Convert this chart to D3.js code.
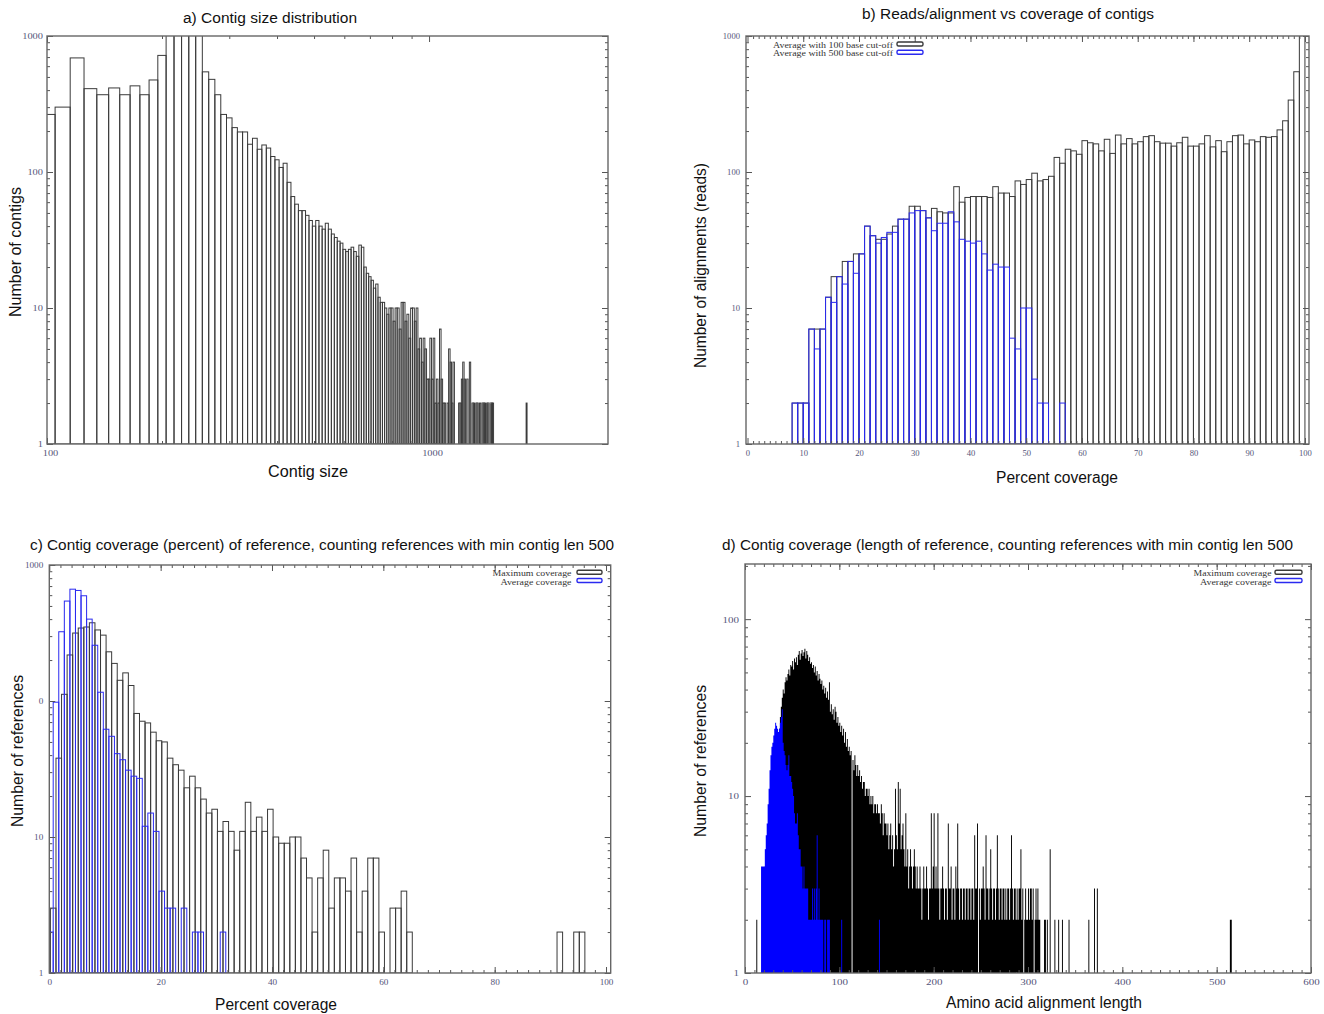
<!DOCTYPE html>
<html>
<head>
<meta charset="utf-8">
<script src="https://cdn.jsdelivr.net/npm/d3@7"></script>
<style>body{margin:0;background:#fff}</style>
</head>
<body>
<div class="container"></div>
<script>
// ---- a) contig size distribution, bins of 10 starting at 100
const sizeCounts = [
  265,300,690,410,370,415,370,430,370,475,
  720,1100,1300,1400,1200,1050,545,480,370,265,
  250,212,197,197,160,177,147,158,150,130,
  123,108,116,84,66,58,52,52,48,44,
  40,44,40,38,42,38,35,33,31,30,
  27,26,27,28,26,24,29,28,20,18,
  17,16,14,15,12,11,11,10,9,10,
  10,8,10,10,7,11,11,8,9,6,
  10,10,8,10,5,6,4,6,5,3,
  3,6,3,6,2,3,2,7,3,2,
  2,0,2,5,4,2,4,0,0,0,
  2,2,3,4,3,0,3,0,4,0,
  2,2,0,2,2,0,2,0,2,2,
  2,0,2,2,0,2,2,2,0,0,
  0,0,0,0,0,0,0,0,0,0,
  0,0,0,0,0,0,0,0,0,0,
  0,0,0,0,0,0,0,0,0,0,
  2
];
const sizeBins = sizeCounts.map((c, i) => 100 + 10 * i);

// ---- b) reads per alignment vs percent coverage, one bin per percent
const reads100 = [
  1,1,1,1,1,1,1,1,2,2,
  2,7,7,7,12,17,17,22,22,25,
  25,40,34,32,32,35,40,45,45,56,
  56,52,46,54,51,50,50,78,60,65,
  66,66,66,65,78,70,70,66,86,81,
  88,98,86,88,93,128,116,147,143,135,
  170,164,161,143,174,137,187,161,176,161,
  167,182,185,167,163,163,155,164,180,155,
  155,161,185,153,170,141,167,185,187,161,
  172,167,182,180,182,204,238,338,546,1200
];
const reads500 = [
  0,0,0,0,0,0,0,0,2,2,
  2,7,5,7,12,11,17,15,22,18,
  25,40,34,30,33,36,36,45,45,50,
  52,52,46,37,42,42,51,43,32,31,
  30,31,25,19,21,20,20,6,5,10,
  10,3,2,2,0,0,2
];

// ---- c) percent coverage of reference
const pctMax = [
  3,38,112,218,316,344,350,376,333,305,
  230,189,142,161,130,81,71,69,59,51,
  50,38,34,31,23,28,23,19,15,16,
  11,13,11,8,11,18,11,14,11,16,
  10,9,9,10,10,7,5,2,5,8,
  3,5,5,4,7,2,4,7,7,2,
  1,3,3,4,2,0,0,0,0,0,
  0,0,0,0,0,0,0,0,0,0,
  0,0,0,0,0,0,0,0,0,0,
  0,2,0,0,2,2
];
const pctAvg = [
  2,98,323,543,664,650,594,400,257,116,
  62,55,41,37,31,28,27,12,15,11,
  4,3,3,0,3,0,2,2,0,0,
  0,2
];

// ---- d) amino acid alignment length, one bin per residue
const lenMax = [
  0,0,0,0,0,0,0,0,0,0,
  0,0,2,0,0,0,0,1,2,2,
  3,4,5,4,6,7,8,9,11,12,
  13,15,16,18,20,22,24,28,32,36,
  40,38,44,47,45,49,52,48,55,54,
  58,52,60,57,61,55,63,66,59,64,
  67,62,65,68,60,66,63,58,61,56,
  57,53,55,50,54,48,51,45,49,46,
  43,45,40,42,38,41,36,39,35,44,
  30,33,29,31,27,32,30,26,28,25,
  26,23,25,22,24,20,23,19,21,18,
  19,17,18,0,16,14,17,15,13,15,
  13,14,12,13,11,12,12,10,11,11,
  10,11,9,10,9,10,8,9,9,8,
  9,8,8,7,9,8,6,8,7,7,
  6,7,5,6,7,5,6,4,5,11,
  6,5,12,7,11,5,6,7,5,4,
  8,4,5,3,4,5,4,3,4,5,
  4,3,4,3,3,4,3,2,3,4,
  3,3,4,3,2,3,3,8,3,4,
  8,3,4,3,8,3,2,3,3,4,
  3,2,3,3,2,7,3,3,4,2,
  3,3,2,4,3,7,3,2,3,3,
  2,3,3,2,3,3,2,3,3,2,
  3,3,2,6,3,3,7,0,3,2,
  3,3,4,3,2,6,3,3,2,3,
  5,3,2,3,3,2,3,6,3,2,
  3,3,2,3,3,2,3,2,3,3,
  2,3,6,3,2,3,3,2,3,2,
  3,3,5,2,3,0,2,3,2,2,
  3,2,3,3,2,3,0,2,3,2,
  3,2,2,0,0,0,0,2,2,0,
  2,0,0,5,0,0,0,0,2,0,
  0,0,2,0,0,0,2,0,0,0,
  0,0,0,2,0,0,0,0,0,0,
  0,0,0,0,0,0,0,0,0,0,
  0,0,0,0,2,0,0,0,0,0,
  3,0,0,3,0,0,0,0,0,0
];
const lenMaxFar = [514, 515];
const lenMaxFarCount = [2, 2];
const lenAvg = [
  0,0,0,0,0,0,0,0,0,0,
  0,0,0,0,0,0,0,4,4,4,
  4,5,6,7,9,11,14,17,19,20,
  22,24,26,25,24,23,24,26,28,31,
  20,18,17,15,14,15,17,13,13,12,
  11,10,8,7,7,8,6,5,5,4,
  4,3,4,3,3,3,3,2,2,2,
  2,3,2,3,2,3,6,2,3,2,
  2,2,2,0,2,2,0,2,2,2
];
const lenAvgFar = [102, 142];
const lenAvgFarCount = [2, 2];

// tick labels
const logTicks = [1, 10, 100, 1000];
const logLabels = ["1", "10", "100", "1000"];
const logLabelsC = ["1", "10", "0", "1000"];
const sizeTicks = [100, 1000];
const pctTicksB = [0, 10, 20, 30, 40, 50, 60, 70, 80, 90, 100];
const pctTicksC = [0, 20, 40, 60, 80, 100];
const lenTicks = [0, 100, 200, 300, 400, 500, 600];
const lenYTicks = [1, 10, 100];

const BLACK = "#3a3a3a", BLUE = "#2a2af0";

const svg = d3.select(".container").append("svg")
  .attr("width", 1324).attr("height", 1014)
  .attr("font-family", "'Liberation Sans', Arial, sans-serif");
const defs = svg.append("defs");

function logMinor(top) {
  const out = [];
  for (let d = 1; d < top; d *= 10)
    for (let k = 2; k <= 9; k++) if (d * k <= top) out.push(d * k);
  return out;
}

function plotArea(id, x, y) {
  const [l, r] = x.range(), [b, t] = y.range();
  defs.append("clipPath").attr("id", id).append("rect")
    .attr("x", l).attr("y", t).attr("width", r - l).attr("height", b - t);
  return svg.append("g").attr("clip-path", `url(#${id})`);
}

function outlineBars(g, x, y, counts, lo, hi, color) {
  g.append("g").selectAll("rect")
    .data(counts.map((c, i) => ({c, i})).filter(d => d.c > 0))
    .join("rect")
    .attr("x", d => x(lo(d.i)))
    .attr("width", d => x(hi(d.i)) - x(lo(d.i)))
    .attr("y", d => y(d.c))
    .attr("height", d => y(1) - y(d.c))
    .attr("fill", "none")
    .attr("stroke", color)
    .attr("stroke-width", 1);
}

function solidBars(g, x, y, bins, counts, color) {
  let p = "";
  counts.forEach((c, i) => {
    if (c > 0) {
      const a = x(bins[i]), b = x(bins[i] + 1);
      p += `M${a},${y(1)}H${b}V${y(c)}H${a}Z`;
    }
  });
  g.append("path").attr("d", p).attr("fill", color);
}

function drawAxes(x, y, o) {
  const [l, r] = x.range(), [b, t] = y.range();
  const g = svg.append("g");
  const mk = (axis, tx, ty) => {
    const a = g.append("g").attr("transform", `translate(${tx},${ty})`).call(axis);
    a.select(".domain").remove();
    a.selectAll(".tick line").attr("stroke", "#555");
    return a;
  };
  const lab = a => a.selectAll("text")
    .attr("font-family", "'Liberation Serif', 'Times New Roman', serif")
    .attr("font-size", 9)
    .attr("fill", "#55557a")
    .attr("lengthAdjust", "spacingAndGlyphs")
    .attr("textLength", function () { return this.textContent.length * o.digitW; });

  mk(d3.axisBottom(x).tickValues(o.xMinor).tickSize(-3).tickFormat(""), 0, b);
  mk(d3.axisTop(x).tickValues(o.xMinor).tickSize(-3).tickFormat(""), 0, t);
  mk(d3.axisLeft(y).tickValues(o.yMinor).tickSize(-3).tickFormat(""), l, 0);
  mk(d3.axisRight(y).tickValues(o.yMinor).tickSize(-3).tickFormat(""), r, 0);
  mk(d3.axisTop(x).tickValues(o.xMajor).tickSize(-6).tickFormat(""), 0, t);
  mk(d3.axisRight(y).tickValues(o.yMajor).tickSize(-6).tickFormat(""), r, 0);
  lab(mk(d3.axisBottom(x).tickValues(o.xMajor).tickSize(-6).tickPadding(6)
    .tickFormat((d, i) => o.xLabels[i]), 0, b)).attr("dx", o.xDx || 0);
  lab(mk(d3.axisLeft(y).tickValues(o.yMajor).tickSize(-6).tickPadding(o.yPad)
    .tickFormat((d, i) => o.yLabels[i]), l, 0));

  g.append("rect").attr("x", l).attr("y", t).attr("width", r - l).attr("height", b - t)
    .attr("fill", "none").attr("stroke", "#666").attr("stroke-width", 1.4);
}

function hText(str, x0, x1, yb, size) {
  svg.append("text").attr("x", (x0 + x1) / 2).attr("y", yb)
    .attr("text-anchor", "middle").attr("font-size", size).attr("fill", "#111")
    .attr("textLength", x1 - x0).attr("lengthAdjust", "spacingAndGlyphs")
    .text(str);
}

function vText(str, xb, y0, y1, size) {
  svg.append("text")
    .attr("transform", `translate(${xb},${(y0 + y1) / 2}) rotate(-90)`)
    .attr("text-anchor", "middle").attr("font-size", size).attr("fill", "#111")
    .attr("textLength", y1 - y0).attr("lengthAdjust", "spacingAndGlyphs")
    .text(str);
}

function legend(items, xr, bx0, bx1) {
  items.forEach(it => {
    svg.append("text").attr("x", xr).attr("y", it.yb)
      .attr("text-anchor", "end")
      .attr("font-family", "'Liberation Serif', 'Times New Roman', serif")
      .attr("font-size", 9).attr("fill", "#333")
      .attr("textLength", it.w).attr("lengthAdjust", "spacingAndGlyphs")
      .text(it.label);
    svg.append("rect").attr("x", bx0).attr("y", it.yb - 6).attr("width", bx1 - bx0)
      .attr("height", 4).attr("rx", 1.5)
      .attr("fill", "none").attr("stroke", it.color).attr("stroke-width", 1.4);
  });
}

// ---------- panel a
const xA = d3.scaleLog().domain([100, 2940]).range([47, 608]);
const yA = d3.scaleLog().domain([1, 1000]).range([444, 36]);
const gA = plotArea("clipA", xA, yA);
outlineBars(gA, xA, yA, sizeCounts, i => sizeBins[i] - 5, i => sizeBins[i] + 5, BLACK);
drawAxes(xA, yA, {
  xMajor: sizeTicks, xLabels: ["100", "1000"], xMinor: [200, 300, 400, 500, 600, 700, 800, 900],
  yMajor: logTicks, yLabels: logLabels, yMinor: logMinor(1000),
  digitW: 5.2, yPad: 4, xDx: 3
});
hText("a) Contig size distribution", 183, 357, 22.5, 14);
hText("Contig size", 268, 348, 477, 16);
vText("Number of contigs", 21, 187, 317, 16);

// ---------- panel b
const xB = d3.scaleLinear().domain([-0.27, 100.73]).range([746, 1309]);
const yB = d3.scaleLog().domain([1, 1000]).range([444, 36]);
const gB = plotArea("clipB", xB, yB);
outlineBars(gB, xB, yB, reads100, i => i, i => i + 1, BLACK);
outlineBars(gB, xB, yB, reads500, i => i, i => i + 1, BLUE);
drawAxes(xB, yB, {
  xMajor: pctTicksB, xLabels: pctTicksB.map(String), xMinor: d3.range(1, 100),
  yMajor: logTicks, yLabels: logLabels, yMinor: logMinor(1000),
  digitW: 4.3, yPad: 6
});
legend([
  {label: "Average with 100 base cut-off", yb: 48, w: 120, color: BLACK},
  {label: "Average with 500 base cut-off", yb: 56.3, w: 120, color: BLUE}
], 893, 897, 923);
hText("b) Reads/alignment vs coverage of contigs", 862, 1154, 18.5, 14);
hText("Percent coverage", 996, 1118, 483, 16);
vText("Number of alignments (reads)", 706, 163, 368, 16);

// ---------- panel c
const xC = d3.scaleLinear().domain([0, 100.84]).range([49.3, 610.7]);
const yC = d3.scaleLog().domain([1, 1000]).range([973, 565]);
const gC = plotArea("clipC", xC, yC);
outlineBars(gC, xC, yC, pctMax, i => i + 0.2, i => i + 1.2, BLACK);
outlineBars(gC, xC, yC, pctAvg, i => i - 0.3, i => i + 0.7, BLUE);
drawAxes(xC, yC, {
  xMajor: pctTicksC, xLabels: pctTicksC.map(String), xMinor: d3.range(2, 100, 2),
  yMajor: logTicks, yLabels: logLabelsC, yMinor: logMinor(1000),
  digitW: 4.6, yPad: 6
});
legend([
  {label: "Maximum coverage", yb: 576.3, w: 79, color: BLACK},
  {label: "Average coverage", yb: 584.5, w: 71, color: BLUE}
], 571.5, 577, 602);
hText("c) Contig coverage (percent) of reference, counting references with min contig len 500", 30, 614, 549.5, 14);
hText("Percent coverage", 215, 337, 1010, 16);
vText("Number of references", 23, 675, 827, 16);

// ---------- panel d
const xD = d3.scaleLinear().domain([0, 600]).range([745, 1311]);
const yD = d3.scaleLog().domain([1, 205]).range([973, 564]);
const gD = plotArea("clipD", xD, yD);
solidBars(gD, xD, yD, lenMax.map((c, i) => i), lenMax, "#000");
solidBars(gD, xD, yD, lenMaxFar, lenMaxFarCount, "#000");
solidBars(gD, xD, yD, lenAvg.map((c, i) => i), lenAvg, "#0000ff");
solidBars(gD, xD, yD, lenAvgFar, lenAvgFarCount, "#0000ff");
drawAxes(xD, yD, {
  xMajor: lenTicks, xLabels: lenTicks.map(String), xMinor: d3.range(10, 600, 10),
  yMajor: lenYTicks, yLabels: ["1", "10", "100"], yMinor: logMinor(205),
  digitW: 5.5, yPad: 6
});
legend([
  {label: "Maximum coverage", yb: 576.3, w: 78, color: BLACK},
  {label: "Average coverage", yb: 584.5, w: 71.5, color: BLUE}
], 1271.5, 1275, 1302);
hText("d) Contig coverage (length of reference, counting references with min contig len 500", 722, 1293, 549.5, 14);
hText("Amino acid alignment length", 946, 1142, 1008, 16);
vText("Number of references", 706, 685, 837, 16);
</script>
</body>
</html>
